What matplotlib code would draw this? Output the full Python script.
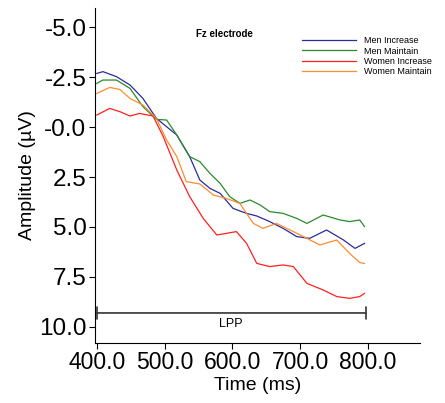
import matplotlib
matplotlib.use("Agg")
import matplotlib.pyplot as plt
plt.rcParams['font.family'] = ['Liberation Sans', 'DejaVu Sans']

t_mi = [400,409,429,449,468,488,518,537,552,567,582,601,621,636,655,675,695,714,739,764,781,795]
a_mi = [-2.68,-2.77,-2.52,-2.10,-1.43,-0.43,0.40,1.48,2.65,3.07,3.32,4.07,4.32,4.45,4.73,5.07,5.48,5.57,5.15,5.65,6.07,5.82]
t_mm = [400,409,429,449,468,488,503,518,537,552,567,582,596,611,626,641,655,675,695,710,734,759,773,788,795]
a_mm = [-2.18,-2.35,-2.35,-1.93,-1.02,-0.38,-0.35,0.40,1.48,1.73,2.32,2.82,3.48,3.82,3.65,3.90,4.23,4.32,4.57,4.82,4.40,4.65,4.73,4.65,4.98]
t_wi = [400,419,434,449,463,483,498,518,537,557,577,591,606,621,636,655,675,690,710,734,754,773,788,795]
a_wi = [-0.60,-0.93,-0.77,-0.55,-0.68,-0.55,0.48,2.15,3.48,4.57,5.40,5.32,5.23,5.82,6.82,6.98,6.90,6.98,7.82,8.15,8.48,8.57,8.48,8.32]
t_wm = [400,419,434,449,468,488,503,518,532,552,572,591,611,631,645,665,685,705,729,754,773,788,795]
a_wm = [-1.68,-1.98,-1.88,-1.43,-1.10,-0.43,0.65,1.48,2.73,2.85,3.40,3.57,3.82,4.82,5.07,4.82,5.15,5.48,5.90,5.65,6.32,6.78,6.82]

names = ["Men Increase", "Men Maintain", "Women Increase", "Women Maintain"]
colors = ["#2b2b9e", "#2a8a2a", "#ff2020", "#ff8c30"]
xticks = [400, 500, 600, 700, 800]
yticks = [-5, -2.5, 0, 2.5, 5, 7.5, 10]

fig = plt.figure(figsize=(4.45, 4.03), dpi=100)
ax = fig.add_axes([0.213, 0.149, 0.731, 0.831])
for t, a, n, c in zip([t_mi, t_mm, t_wi, t_wm], [a_mi, a_mm, a_wi, a_wm], names, colors):
    ax.plot(t, a, color=c, lw=0.9, label=n)
ax.set_xlim(397, 877)
ax.set_ylim(10.8, -5.95)
ax.set_xticks(xticks)
ax.set_xticklabels([f"{v:.1f}" for v in xticks], fontsize=16.5)
ax.set_yticks(yticks)
ax.set_yticklabels([f"{v:.1f}" if v != 0 else "-0.0" for v in yticks], fontsize=17.5)
ax.spines["top"].set_visible(False)
ax.spines["right"].set_visible(False)
ax.tick_params(direction="out", length=4, pad=2)
ax.set_xlabel("Time (ms)", fontsize=14, labelpad=2)
ax.set_ylabel("Amplitude (µV)", fontsize=14, labelpad=2)
ax.annotate("", xy=(400, 9.3), xytext=(797, 9.3),
            arrowprops=dict(arrowstyle="|-|", color="#333333", lw=1.2, mutation_scale=4, shrinkA=0, shrinkB=0))
ax.text(598, 9.85, "LPP", ha="center", va="center", fontsize=9)
ax.text(0.40, 0.915, "Fz electrode", transform=ax.transAxes, ha="center", fontsize=7, fontweight="bold")
ax.legend(loc="upper right", bbox_to_anchor=(1.06, 0.94), frameon=False, fontsize=6.5,
          handlelength=6, labelspacing=0.15, handletextpad=0.8)
fig.savefig("out.png", dpi=100)
